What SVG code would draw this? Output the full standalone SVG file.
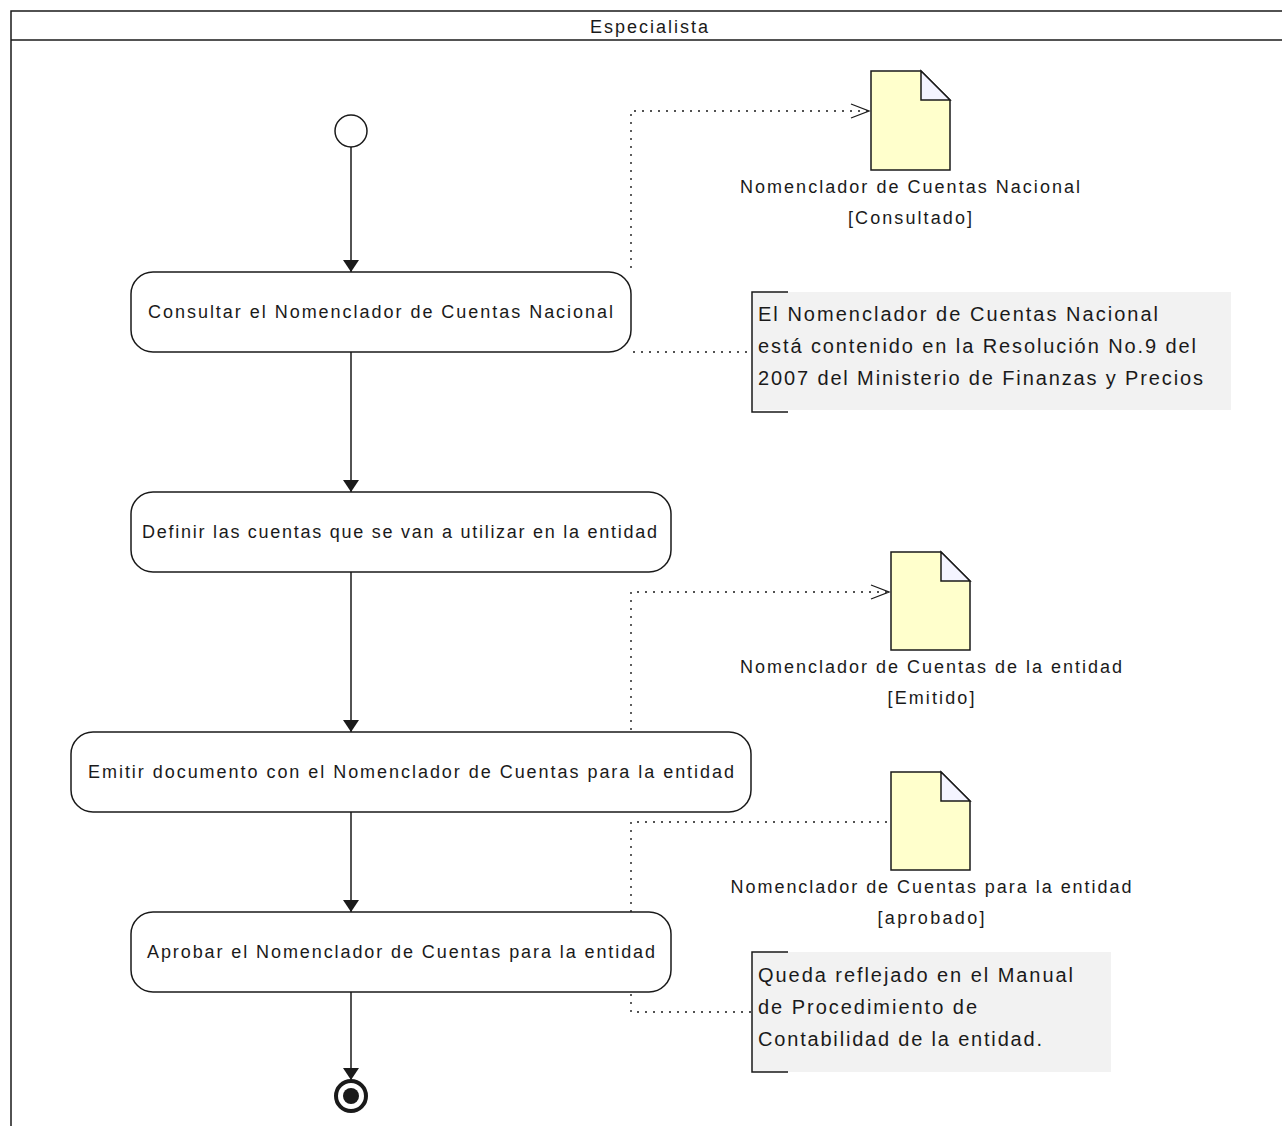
<svg xmlns="http://www.w3.org/2000/svg" width="1282" height="1126" viewBox="0 0 1282 1126">
<style>
text{font-family:"Liberation Sans",Arial,sans-serif;fill:#1a1a1a;}
.t{font-size:18px;}
.n{font-size:20px;}
.act{fill:#fff;stroke:#1a1a1a;stroke-width:1.5;}
.doc{fill:#ffffcc;stroke:#1a1a1a;stroke-width:1.5;}
.fold{fill:#f4f4ff;stroke:#1a1a1a;stroke-width:1.5;}
.flow{stroke:#1a1a1a;stroke-width:1.5;fill:none;}
.dot{stroke:#1a1a1a;stroke-width:1.4;fill:none;stroke-dasharray:2 6;}
.nb{fill:#f2f2f2;}
.br{stroke:#1a1a1a;stroke-width:1.5;fill:none;}
</style>
<defs>
<marker id="ah" markerWidth="12" markerHeight="16" refX="12" refY="8" orient="auto" markerUnits="userSpaceOnUse">
<path d="M0,0 L12,8 L0,16 Z" fill="#1a1a1a"/>
</marker>
<marker id="oh" markerWidth="22" markerHeight="16" refX="20" refY="8" orient="auto" markerUnits="userSpaceOnUse">
<path d="M2,1 L20,8 L2,15" fill="none" stroke="#1a1a1a" stroke-width="1.3"/>
</marker>
</defs>
<rect width="1282" height="1126" fill="#fff"/>
<g id="lane">
<rect x="11" y="11" width="1280" height="1130" fill="none" stroke="#1a1a1a" stroke-width="1.5"/>
<line x1="11" y1="40" x2="1282" y2="40" stroke="#1a1a1a" stroke-width="1.5"/>
<text class="t" x="649" y="33" text-anchor="middle" textLength="118" lengthAdjust="spacing">Especialista</text>
</g>
<g id="connectors">
<line class="flow" x1="351" y1="147" x2="351" y2="272" marker-end="url(#ah)"/>
<line class="flow" x1="351" y1="352" x2="351" y2="492" marker-end="url(#ah)"/>
<line class="flow" x1="351" y1="572" x2="351" y2="732" marker-end="url(#ah)"/>
<line class="flow" x1="351" y1="812" x2="351" y2="912" marker-end="url(#ah)"/>
<line class="flow" x1="351" y1="992" x2="351" y2="1080" marker-end="url(#ah)"/>
<polyline class="dot" points="631,268 631,111 869,111" marker-end="url(#oh)"/>
<line class="dot" x1="633" y1="352" x2="751" y2="352"/>
<polyline class="dot" points="631,730 631,592 889,592" marker-end="url(#oh)"/>
<polyline class="dot" points="631,912 631,822 889,822"/>
<polyline class="dot" points="631,994 631,1012 751,1012"/>
</g>
<g id="start"><circle cx="351" cy="131" r="16" fill="#fff" stroke="#1a1a1a" stroke-width="1.5"/></g>
<g id="a1">
<rect class="act" x="131" y="272" width="500" height="80" rx="22"/>
<text class="t" x="148" y="318" textLength="465" lengthAdjust="spacing">Consultar el Nomenclador de Cuentas Nacional</text>
</g>
<g id="a2">
<rect class="act" x="131" y="492" width="540" height="80" rx="22"/>
<text class="t" x="142" y="538" textLength="515" lengthAdjust="spacing">Definir las cuentas que se van a utilizar en la entidad</text>
</g>
<g id="a3">
<rect class="act" x="71" y="732" width="680" height="80" rx="22"/>
<text class="t" x="88" y="778" textLength="646" lengthAdjust="spacing">Emitir documento con el Nomenclador de Cuentas para la entidad</text>
</g>
<g id="a4">
<rect class="act" x="131" y="912" width="540" height="80" rx="22"/>
<text class="t" x="147" y="958" textLength="508" lengthAdjust="spacing">Aprobar el Nomenclador de Cuentas para la entidad</text>
</g>
<g id="end">
<circle cx="351" cy="1096" r="15" fill="#fff" stroke="#1a1a1a" stroke-width="4"/>
<circle cx="351" cy="1096" r="8" fill="#1a1a1a"/>
</g>
<g id="d1">
<path class="doc" d="M871,71 H921 L950,100 V170 H871 Z"/>
<path class="fold" d="M921,71 V100 H950 Z"/>
<text class="t" x="910" y="193" text-anchor="middle" textLength="340" lengthAdjust="spacing">Nomenclador de Cuentas Nacional</text>
<text class="t" x="910" y="224" text-anchor="middle" textLength="124" lengthAdjust="spacing">[Consultado]</text>
</g>
<g id="n1">
<rect class="nb" x="752" y="292" width="479" height="118"/>
<polyline class="br" points="788,292 752,292 752,412 788,412"/>
<text class="n" x="758" y="321" textLength="400" lengthAdjust="spacing">El Nomenclador de Cuentas Nacional</text>
<text class="n" x="758" y="353" textLength="438" lengthAdjust="spacing">está contenido en la Resolución No.9 del</text>
<text class="n" x="758" y="385" textLength="445" lengthAdjust="spacing">2007 del Ministerio de Finanzas y Precios</text>
</g>
<g id="d2">
<path class="doc" d="M891,552 H941 L970,581 V650 H891 Z"/>
<path class="fold" d="M941,552 V581 H970 Z"/>
<text class="t" x="931" y="673" text-anchor="middle" textLength="382" lengthAdjust="spacing">Nomenclador de Cuentas de la entidad</text>
<text class="t" x="931" y="704" text-anchor="middle" textLength="87" lengthAdjust="spacing">[Emitido]</text>
</g>
<g id="d3">
<path class="doc" d="M891,772 H941 L970,801 V870 H891 Z"/>
<path class="fold" d="M941,772 V801 H970 Z"/>
<text class="t" x="931" y="893" text-anchor="middle" textLength="401" lengthAdjust="spacing">Nomenclador de Cuentas para la entidad</text>
<text class="t" x="931" y="924" text-anchor="middle" textLength="107" lengthAdjust="spacing">[aprobado]</text>
</g>
<g id="n2">
<rect class="nb" x="752" y="952" width="359" height="120"/>
<polyline class="br" points="788,952 752,952 752,1072 788,1072"/>
<text class="n" x="758" y="982" textLength="315" lengthAdjust="spacing">Queda reflejado en el Manual</text>
<text class="n" x="758" y="1014" textLength="219" lengthAdjust="spacing">de Procedimiento de</text>
<text class="n" x="758" y="1046" textLength="284" lengthAdjust="spacing">Contabilidad de la entidad.</text>
</g>
</svg>
